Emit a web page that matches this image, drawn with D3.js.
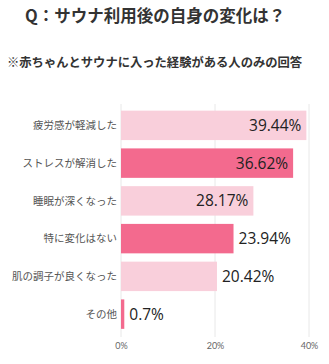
<!DOCTYPE html>
<html>
<head>
<meta charset="utf-8">
<script src="https://cdn.jsdelivr.net/npm/d3@7"></script>
<style>
  html, body { margin: 0; padding: 0; background: #fff; }
  svg { display: block; font-family: "Noto Sans CJK JP", "Noto Sans", sans-serif; }
</style>
</head>
<body>
<svg id="chart" width="329" height="364"></svg>
<script>
// Survey answers: change after using the sauna
const categories = ["疲労感が軽減した", "ストレスが解消した", "睡眠が深くなった", "特に変化はない", "肌の調子が良くなった", "その他"];
const values = [39.44, 36.62, 28.17, 23.94, 20.42, 0.7];
const barColors = ["#f9cfdb", "#f36a8e", "#f9cfdb", "#f36a8e", "#f9cfdb", "#f36a8e"];
const tickValues = [0, 20, 40];

const title = "Q：サウナ利用後の自身の変化は？";
const subtitle = "※赤ちゃんとサウナに入った経験がある人のみの回答";

const svg = d3.select("#chart");

svg.append("text")
  .attr("x", 25).attr("y", 22)
  .attr("font-size", 16.5).attr("font-weight", "bold")
  .attr("fill", "#333")
  .text(title);

svg.append("text")
  .attr("x", 7).attr("y", 67)
  .attr("font-size", 12.3).attr("font-weight", "bold")
  .attr("fill", "#333")
  .text(subtitle);

const x = d3.scaleLinear().domain([0, 40]).range([121, 309]);
const y = d3.scaleBand().domain(categories).range([106.5, 333]).paddingInner(0.22).paddingOuter(0.11);

// vertical grid lines
svg.append("g").selectAll("line")
  .data(tickValues)
  .join("line")
  .attr("x1", d => x(d)).attr("x2", d => x(d))
  .attr("y1", 104).attr("y2", 337)
  .attr("stroke", "#e8e8e8").attr("stroke-width", 1);

// x axis tick labels
const xAxis = d3.axisBottom(x).tickValues(tickValues).tickFormat(d => d + "%").tickSize(0);
const gx = svg.append("g").attr("transform", "translate(0,338)").call(xAxis);
gx.select(".domain").remove();
gx.selectAll("text").attr("font-size", 9).attr("fill", "#666").attr("dy", "0.9em")
  .attr("font-family", "Lato, 'Noto Sans', sans-serif");

// bars
svg.append("g").selectAll("rect")
  .data(values)
  .join("rect")
  .attr("x", x(0))
  .attr("y", (d, i) => y(categories[i]))
  .attr("width", d => x(d) - x(0))
  .attr("height", y.bandwidth())
  .attr("fill", (d, i) => barColors[i]);

// category labels
svg.append("g").selectAll("text")
  .data(categories)
  .join("text")
  .attr("x", 117)
  .attr("y", d => y(d) + y.bandwidth() / 2)
  .attr("dy", "0.35em")
  .attr("text-anchor", "end")
  .attr("font-size", 10.5)
  .attr("fill", "#555")
  .text(d => d);

// value labels: inside the bar end when it fits, otherwise just past it
svg.append("g").selectAll("text")
  .data(values)
  .join("text")
  .attr("x", d => d >= 25 ? x(d) - 5 : x(d) + 5)
  .attr("y", (d, i) => y(categories[i]) + y.bandwidth() / 2)
  .attr("dy", "0.36em")
  .attr("text-anchor", d => d >= 25 ? "end" : "start")
  .attr("font-size", 15.5)
  .attr("font-family", "'Open Sans', 'Noto Sans', sans-serif")
  .attr("fill", "#222")
  .text(d => d + "%");
</script>
</body>
</html>
